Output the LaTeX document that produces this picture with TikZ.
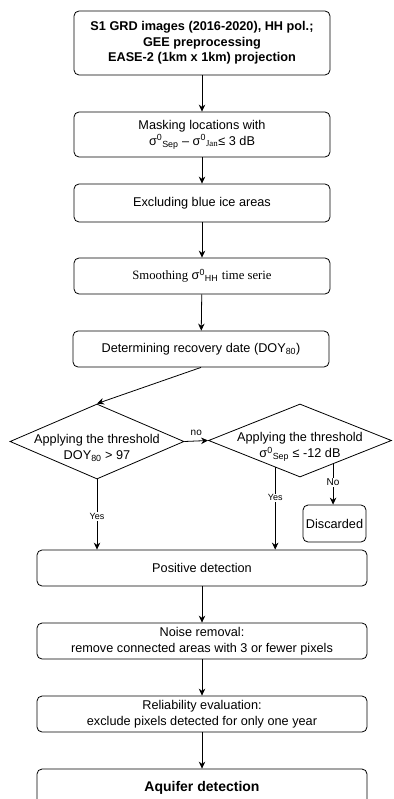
\documentclass[tikz,border=0pt]{standalone}
\usepackage{fontspec}
\setmainfont{Liberation Sans}
\newfontfamily\timesfont{Liberation Serif}
\usetikzlibrary{arrows.meta, positioning, shapes.geometric, calc}

\begin{document}
\begin{tikzpicture}[x=1pt, y=-1pt, line width=0.8pt,
  font=\fontsize{12.7}{16}\selectfont,
  box/.style={draw, rounded corners=5pt, fill=white, minimum width=256pt,
              minimum height=36pt, align=center, inner sep=2pt},
  wide/.style={box, minimum width=330pt},
  decision/.style={draw, diamond, fill=white, inner sep=-40pt},
  arr/.style={-{Stealth[length=7pt, width=6.5pt]}, line width=0.8pt},
  lbl/.style={fill=white, inner sep=1pt, font=\fontsize{9}{10}\selectfont}
]
\useasboundingbox (0,0) rectangle (393,799);

\node[box, minimum height=64pt, font=\fontsize{12.7}{15.5}\selectfont\bfseries] (s1) at (202,43)
  {S1 GRD images (2016-2020), HH pol.;\\GEE preprocessing\\EASE-2 (1km x 1km) projection};
\node[box, minimum height=45pt] (mask) at (202,134.5)
  {Masking locations with\\σ\textsuperscript{0}\textsubscript{Sep} – σ\textsuperscript{0}\textsubscript{\timesfont Jan}≤ 3 dB};
\node[box, minimum height=38pt] (blue) at (202,203) {Excluding blue ice areas};
\node[box] (smooth) at (202,276)
  {{\timesfont Smoothing} σ\textsuperscript{0}\textsubscript{HH} {\timesfont time serie}};
\node[box] (doy) at (201,349) {Determining recovery date (DOY\textsubscript{80})};
\node[decision, minimum width=174pt, minimum height=75pt,
  label={[align=center, yshift=-6.5pt]center:Applying the threshold\\DOY\textsubscript{80} > 97}] (th1) at (97,441.5) {};
\node[decision, minimum width=183pt, minimum height=73pt,
  label={[align=center, yshift=-6.5pt]center:Applying the threshold\\σ\textsuperscript{0}\textsubscript{Sep} ≤ -12 dB}] (th2) at (300,440.5) {};
\node[box, minimum width=63pt, minimum height=37pt] (disc) at (334.5,523.5) {Discarded};
\node[wide] (pos) at (202,568) {Positive detection};
\node[wide] (noise) at (202,641) {Noise removal:\\remove connected areas with 3 or fewer pixels};
\node[wide] (rel) at (202,714) {Reliability evaluation:\\exclude pixels detected for only one year};
\node[wide, minimum height=37pt, font=\fontsize{14}{16}\selectfont\bfseries] (aq) at (202,787.5) {Aquifer detection};

\coordinate (yes2) at ($(th2.south)!0.27!(th2.west)$);
\coordinate (no2) at ($(th2.south)!0.36!(th2.east)$);

\draw[arr] (s1) -- (mask);
\draw[arr] (mask) -- (blue);
\draw[arr] (blue) -- (smooth);
\draw[arr] (smooth) -- (doy);
\draw[arr] (doy.south) -- (th1.north);
\draw[arr] (th1.east) -- node[above=5pt, inner sep=0pt, font=\fontsize{10}{11}\selectfont] {no} (th2.west);
\draw[arr] (th1.south) -- node[lbl, pos=0.53] {Yes} (th1.south |- pos.north);
\draw[arr] (yes2) -- node[lbl, pos=0.37] {Yes} (yes2 |- pos.north);
\draw[arr] (no2) -- node[lbl, pos=0.45, font=\fontsize{10}{11}\selectfont] {No} (no2 |- disc.north);
\draw[arr] (pos) -- (noise);
\draw[arr] (noise) -- (rel);
\draw[arr] (rel) -- (aq);
\end{tikzpicture}
\end{document}
